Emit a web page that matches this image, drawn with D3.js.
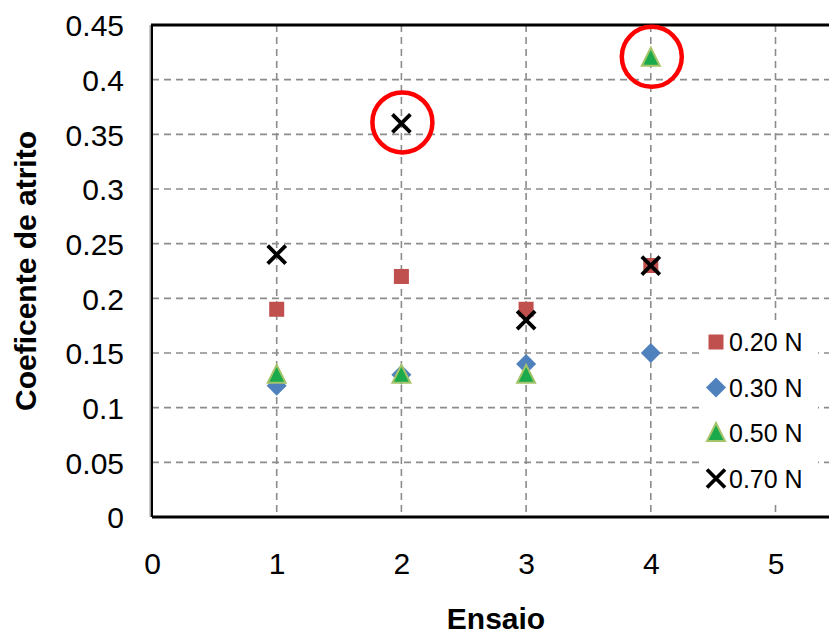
<!DOCTYPE html>
<html>
<head>
<meta charset="utf-8">
<script src="https://cdn.jsdelivr.net/npm/d3@7/dist/d3.min.js"></script>
<style>
  html, body { margin: 0; padding: 0; background: #fff; }
  svg { display: block; font-family: "Liberation Sans", Arial, sans-serif; }
</style>
</head>
<body>
<svg id="chart" width="829" height="635"></svg>
<script>
// Trial number (Ensaio) on the x axis
const ensaios = [1, 2, 3, 4];
// Friction coefficient for each applied load
const serie020 = [0.19, 0.22, 0.19, 0.23];
const serie030 = [0.12, 0.13, 0.14, 0.15];
const serie050 = [0.13, 0.13, 0.13, 0.42];
const serie070 = [0.24, 0.36, 0.18, 0.23];
const seriesNames = ["0.20 N", "0.30 N", "0.50 N", "0.70 N"];
const xTicks = [0, 1, 2, 3, 4, 5];
const yTicks = [0, 0.05, 0.1, 0.15, 0.2, 0.25, 0.3, 0.35, 0.4, 0.45];
// Points highlighted as outliers: [ensaio, coefficient]
const highlighted = [[2, 0.36], [4, 0.42]];

const svg = d3.select("#chart");
const plotLeft = 152, plotTop = 25, plotBottom = 517;
const x = d3.scaleLinear().domain([0, 5.5]).range([plotLeft, plotLeft + 5.5 * 124.7]);
const y = d3.scaleLinear().domain([0, 0.45]).range([plotBottom, plotTop]);

// gridlines
const grid = svg.append("g");
grid.selectAll("line.h").data(yTicks.filter(d => d > 0 && d < 0.45)).join("line")
  .attr("class", "h")
  .attr("x1", plotLeft).attr("x2", 829)
  .attr("y1", d => y(d)).attr("y2", d => y(d))
  .attr("stroke", "#8c8c8c").attr("stroke-width", 1.6).attr("stroke-dasharray", "7,5");
grid.selectAll("line.v").data(xTicks.filter(d => d > 0)).join("line")
  .attr("class", "v")
  .attr("y1", plotTop).attr("y2", plotBottom)
  .attr("x1", d => x(d)).attr("x2", d => x(d))
  .attr("stroke", "#8c8c8c").attr("stroke-width", 1.6).attr("stroke-dasharray", "7,5");

// legend backdrop hides the gridlines behind it
svg.append("rect").attr("x", 700).attr("y", 320).attr("width", 118).attr("height", 180).attr("fill", "#fff");

// plot frame
svg.append("line").attr("x1", plotLeft - 1).attr("x2", 829).attr("y1", plotTop).attr("y2", plotTop)
  .attr("stroke", "#000").attr("stroke-width", 3);
svg.append("line").attr("x1", plotLeft - 1.5).attr("x2", plotLeft - 1.5).attr("y1", plotTop).attr("y2", plotBottom)
  .attr("stroke", "#999").attr("stroke-width", 2);
svg.append("line").attr("x1", plotLeft).attr("x2", plotLeft).attr("y1", plotTop).attr("y2", plotBottom)
  .attr("stroke", "#000").attr("stroke-width", 2);
svg.append("line").attr("x1", plotLeft).attr("x2", 829).attr("y1", plotBottom).attr("y2", plotBottom)
  .attr("stroke", "#000").attr("stroke-width", 3);

// axes with text labels only
const yAxis = svg.append("g").attr("transform", `translate(${plotLeft},0)`)
  .call(d3.axisLeft(y).tickValues(yTicks).tickSize(0).tickPadding(28).tickFormat(d => String(+d.toFixed(2))));
const xAxis = svg.append("g").attr("transform", `translate(0,${plotBottom})`)
  .call(d3.axisBottom(x).tickValues(xTicks).tickSize(0).tickPadding(0).tickFormat(d3.format("d")));
[yAxis, xAxis].forEach(a => {
  a.select(".domain").remove();
  a.selectAll("text").attr("font-size", 30).attr("fill", "#000")
    .attr("font-family", "Liberation Sans, Arial, sans-serif");
});
yAxis.selectAll("text").attr("dy", "0.36em");
xAxis.selectAll("text").attr("y", 57).attr("dy", 0);

// axis titles
svg.append("text").attr("transform", "translate(36,271) rotate(-90)")
  .attr("text-anchor", "middle").attr("font-size", 30).attr("font-weight", "bold").text("Coeficente de atrito");
svg.append("text").attr("x", 496).attr("y", 629)
  .attr("text-anchor", "middle").attr("font-size", 30).attr("font-weight", "bold").text("Ensaio");

// marker drawers
const markers = [
  (g) => g.append("rect").attr("x", -7.5).attr("y", -7.5).attr("width", 15).attr("height", 15).attr("fill", "#C0504D"),
  (g) => g.append("path").attr("d", "M0,-10L10,0L0,10L-10,0Z").attr("fill", "#4F81BD"),
  (g) => g.append("path").attr("d", "M0,-10L9,8L-9,8Z").attr("fill", "#1AAA4C")
          .attr("stroke", "#A5C46A").attr("stroke-width", 2).attr("stroke-linejoin", "miter"),
  (g) => g.append("path").attr("d", "M-9,-9L9,9M9,-9L-9,9").attr("stroke", "#000")
          .attr("stroke-width", 3.8).attr("fill", "none")
];
const allSeries = [serie020, serie030, serie050, serie070];

allSeries.forEach((vals, si) => {
  const g = svg.append("g");
  vals.forEach((v, i) => {
    const m = g.append("g").attr("transform", `translate(${x(ensaios[i])},${y(v)})`);
    markers[si](m);
  });
});

// outlier circles
svg.append("g").selectAll("circle").data(highlighted).join("circle")
  .attr("cx", d => x(d[0]) + 1).attr("cy", d => y(d[1]) - 1).attr("r", 30)
  .attr("fill", "none").attr("stroke", "#FF0000").attr("stroke-width", 4.5);

// legend
const legend = svg.append("g");
seriesNames.forEach((name, i) => {
  const yy = 342 + i * 45.5;
  const m = legend.append("g").attr("transform", `translate(716,${yy})`);
  markers[i](m);
  legend.append("text").attr("x", 729).attr("y", yy).attr("dy", "0.36em")
    .attr("font-size", 25).attr("fill", "#000").text(name);
});
</script>
</body>
</html>
